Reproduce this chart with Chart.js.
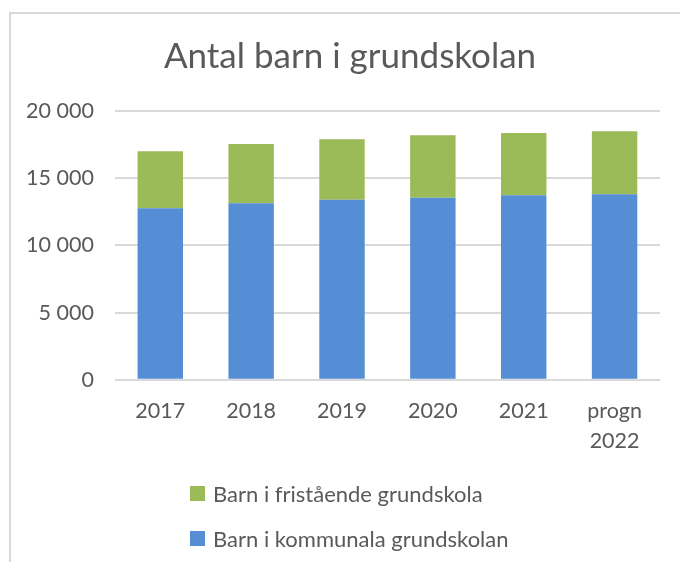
<!DOCTYPE html>
<html>
<head>
<meta charset="utf-8">
<script src="https://cdn.jsdelivr.net/npm/chart.js@4"></script>
<style>
  html, body { margin: 0; padding: 0; background: #fff; }
  #wrap { position: relative; width: 680px; height: 562px; overflow: hidden; }
  #frame { position: absolute; left: 9px; top: 12px; width: 690px; height: 600px;
           border: 2px solid #d9d9d9; box-sizing: border-box; }
  canvas { position: absolute; left: 0; top: 0; }
  #legend { position: absolute; left: 190px; top: 480px; font-family: Lato, sans-serif;
            font-size: 22px; color: #595959; }
  .item { display: flex; align-items: center; height: 26px; margin-bottom: 19px; }
  .box { width: 15px; height: 15px; margin-right: 8px; }
</style>
</head>
<body>
<div id="wrap">
  <div id="frame"></div>
  <canvas id="chart" width="680" height="562"></canvas>
  <div id="legend"></div>
</div>
<script>
// data
const years = ['2017', '2018', '2019', '2020', '2021', ['progn', '2022']];
const kommunala = [12760, 13130, 13390, 13540, 13730, 13810];
const fristaende = [4240, 4410, 4500, 4650, 4630, 4680];
const yTicks = [0, 5000, 10000, 15000, 20000];

const textColor = '#595959';
const font = 'Lato, sans-serif';

const datasets = [
    { label: 'Barn i kommunala grundskolan', data: kommunala, backgroundColor: '#558ed5' },
    { label: 'Barn i fristående grundskola', data: fristaende, backgroundColor: '#9bbb59' }
];

// centre the title on the whole frame, not just the padded box
const centreTitle = {
    id: 'centreTitle',
    afterLayout: function(chart) {
        if (chart.titleBlock) {
            chart.titleBlock.left = 20;
            chart.titleBlock.right = 680;
        }
    }
};

const chart = new Chart(document.getElementById('chart').getContext('2d'), {
    type: 'bar',
    data: { labels: years, datasets: datasets },
    plugins: [centreTitle],
    options: {
        responsive: false,
        animation: false,
        datasets: { bar: { barPercentage: 1, categoryPercentage: 0.5 } },
        layout: { padding: { left: 5, right: 20, top: 0, bottom: 98 } },
        plugins: {
            legend: { display: false },
            tooltip: { enabled: false },
            title: {
                display: true,
                text: 'Antal barn i grundskolan',
                color: textColor,
                font: { family: font, size: 35, weight: 'normal' },
                padding: { top: 36, bottom: 33 }
            }
        },
        scales: {
            x: {
                stacked: true,
                grid: { display: false },
                border: { display: false },
                ticks: { color: textColor, font: { family: font, size: 21.5, lineHeight: 1.4 }, padding: 8, maxRotation: 0 }
            },
            y: {
                stacked: true,
                min: 0,
                max: 20000,
                afterBuildTicks: function(axis) {
                    axis.ticks = yTicks.map(v => ({ value: v }));
                },
                grid: { color: '#d9d9d9', lineWidth: 2, drawTicks: false },
                border: { display: false },
                ticks: {
                    color: textColor,
                    font: { family: font, size: 21.5 },
                    padding: 21,
                    callback: v => String(v).replace(/\B(?=(\d{3})+(?!\d))/g, ' ')
                }
            }
        }
    }
});

// legend, reversed like the stack
const legend = document.getElementById('legend');
datasets.slice().reverse().forEach(function(ds) {
    const item = document.createElement('div');
    item.className = 'item';
    item.innerHTML = '<span class="box" style="background:' + ds.backgroundColor + '"></span>' + ds.label;
    legend.appendChild(item);
});
</script>
</body>
</html>
